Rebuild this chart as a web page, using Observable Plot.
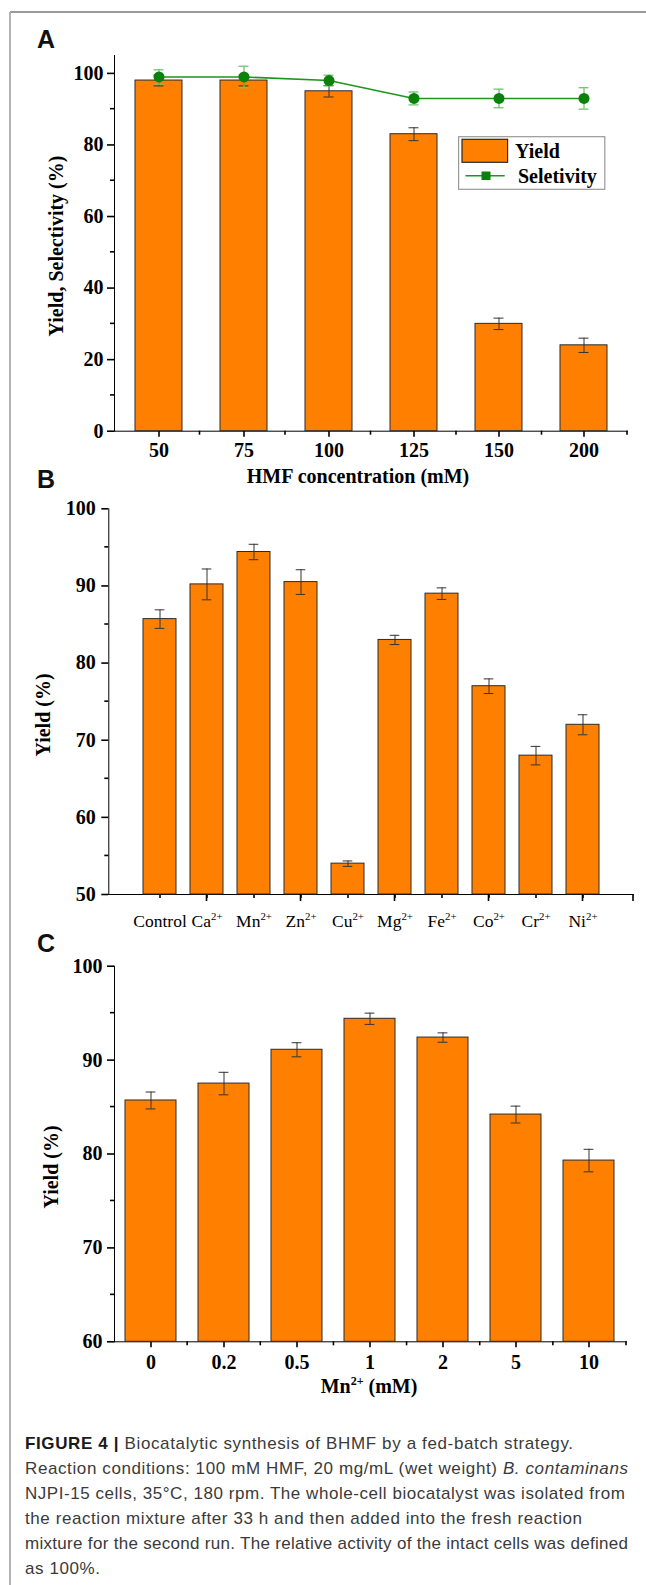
<!DOCTYPE html>
<html><head><meta charset="utf-8">
<script src="https://cdn.jsdelivr.net/npm/d3@7"></script>
<script src="https://cdn.jsdelivr.net/npm/@observablehq/plot@0.6"></script>
<style>
html,body{margin:0;padding:0;background:#fff;}
body{width:646px;height:1585px;position:relative;overflow:hidden;}
.panel{position:absolute;left:0;}
#overlay{position:absolute;left:0;top:0;pointer-events:none;}
</style></head><body>
<div id="pA" class="panel" style="top:0px"></div>
<div id="pB" class="panel" style="top:490px"></div>
<div id="pC" class="panel" style="top:950px"></div>
<svg id="overlay" width="646" height="1585"></svg>
<script>
// ---------------- DATA ----------------
// Panel A
const hmfConc = ["50", "75", "100", "125", "150", "200"];
const yieldA = [98, 98, 95, 83, 30, 24];
const yieldErrA = [1.5, 1.5, 1.6, 1.8, 1.6, 2.0];
const selectivityA = [99, 99, 98, 93, 93, 93];
const selectivityErrA = [2.0, 3.0, 1.5, 1.8, 2.6, 3.0];
const yDomainA = [0, 105];
const yTicksA = [0, 20, 40, 60, 80, 100];
const yMinorA = [10, 30, 50, 70, 90];

// Panel B
const ions = ["Control", "Ca2+", "Mn2+", "Zn2+", "Cu2+", "Mg2+", "Fe2+", "Co2+", "Cr2+", "Ni2+"];
const yieldB = [85.7, 90.2, 94.4, 90.5, 54.0, 83.0, 89.0, 77.0, 68.0, 72.0];
const yieldErrB = [1.2, 2.0, 1.0, 1.6, 0.35, 0.6, 0.75, 0.95, 1.2, 1.3];
const yDomainB = [50, 100];
const yTicksB = [50, 60, 70, 80, 90, 100];
const yMinorB = [55, 65, 75, 85, 95];

// Panel C
const mnConc = ["0", "0.2", "0.5", "1", "2", "5", "10"];
const yieldC = [85.7, 87.5, 91.1, 94.4, 92.4, 84.2, 79.3];
const yieldErrC = [0.9, 1.2, 0.75, 0.6, 0.5, 0.9, 1.2];
const yDomainC = [60, 100];
const yTicksC = [60, 70, 80, 90, 100];
const yMinorC = [65, 75, 85, 95];

// Text
const legendLabels = ["Yield", "Seletivity"];
const captionLines = [
  [["FIGURE 4 | ", "bold"], ["Biocatalytic synthesis of BHMF by a fed-batch strategy.", ""]],
  [["Reaction conditions: 100 mM HMF, 20 mg/mL (wet weight) ", ""], ["B. contaminans", "italic"]],
  [["NJPI-15 cells, 35°C, 180 rpm. The whole-cell biocatalyst was isolated from", ""]],
  [["the reaction mixture after 33 h and then added into the fresh reaction", ""]],
  [["mixture for the second run. The relative activity of the intact cells was defined", ""]],
  [["as 100%.", ""]]
];
const captionWidths = [548, 603, 600, 557, 603, 75];

// ---------------- STYLE ----------------
const W = 646;
const ORANGE = "#FF8000", EDGE = "#2a2a2a", ERR = "#333";
const GREEN_DOT = "#0b800b", GREEN_LINE = "#1e961e", GREEN_ERR = "#74c274";
const SERIF = "'Liberation Serif','Times New Roman',serif";
const SANS = "'Liberation Sans',Arial,Helvetica,sans-serif";
const CAP = 10;

function bandwidth(m, n, pi, po) {
  return (W - m.l - m.r) / (n - pi + 2 * po) * (1 - pi);
}

function makePlot(el, cfg) {
  const plot = Plot.plot({
    width: W, height: cfg.height,
    marginLeft: cfg.m.l, marginRight: cfg.m.r, marginTop: cfg.m.t, marginBottom: cfg.m.b,
    style: {fontFamily: SERIF, fontSize: "20px", fontWeight: "bold", color: "#000", background: "transparent", overflow: "visible"},
    x: {type: "band", domain: cfg.domain, paddingInner: cfg.pi, paddingOuter: cfg.po,
        tickSize: cfg.xTickSize, tickPadding: cfg.xTickPadding, line: true, label: null},
    y: {domain: cfg.yDomain, ticks: cfg.yTicks, tickSize: 7, tickPadding: cfg.yTickPadding,
        line: true, label: null, tickFormat: d => String(d)},
    marks: cfg.marks
  });
  document.getElementById(el).appendChild(plot);
  const svg = d3.select(plot);
  svg.selectAll("[aria-label*='axis'] path, [aria-label*='axis'] line").attr("stroke-width", 1.6);
  const sy = plot.scale("y"), sx = plot.scale("x");
  const x0 = sx.range[0], x1 = sx.range[1];
  const yBottom = sy.range[0];
  const g = svg.append("g").attr("stroke", "#000").attr("stroke-width", 1.6);
  for (const v of cfg.yMinor) {
    const y = sy.apply(v);
    g.append("line").attr("x1", x0).attr("x2", x0 - 4).attr("y1", y).attr("y2", y);
  }
  if (cfg.xMinor) {
    const n = cfg.domain.length, step = (x1 - x0) / n;
    for (let k = 1; k <= n; k++) {
      const x = x0 + k * step;
      g.append("line").attr("x1", x).attr("x2", x).attr("y1", yBottom).attr("y2", yBottom + 4);
    }
  }
  if (cfg.altTicks) {
    cfg.domain.forEach((c, i) => {
      if (i % 2 === 1) {
        const x = sx.apply(c) + sx.bandwidth / 2;
        g.append("line").attr("x1", x).attr("x2", x).attr("y1", yBottom).attr("y2", yBottom + 7);
      }
    });
    g.append("line").attr("x1", x1).attr("x2", x1).attr("y1", yBottom).attr("y2", yBottom + 7);
  }
  // rotated y label
  svg.append("text")
    .attr("transform", `translate(${cfg.yLabel[1]},${cfg.yLabel[2]}) rotate(-90)`)
    .attr("text-anchor", "middle").attr("dy", "0.35em")
    .attr("font-family", SERIF).attr("font-size", 20).attr("font-weight", "bold")
    .text(cfg.yLabel[0]);
  return plot;
}

function superscriptize(plot, names, size) {
  d3.select(plot).selectAll("text").each(function () {
    const t = this.textContent;
    if (!names.includes(t)) return;
    const el = d3.select(this);
    el.attr("font-weight", "normal").attr("font-size", size);
    const m = t.match(/^(.*?)(2\+)$/);
    if (!m) return;
    el.text("");
    el.append("tspan").text(m[1]);
    el.append("tspan").attr("font-size", size * 0.62).attr("dy", -size * 0.38).text(m[2]);
  });
}

// ---------------- PANEL A ----------------
{
  const m = {l: 114, r: 19, t: 55, b: 59.3};
  const pi = 0.45, po = 0.225;
  const inset = (bandwidth(m, hmfConc.length, pi, po) - CAP) / 2;
  const data = hmfConc.map((c, i) => ({conc: c, y: yieldA[i], ye: yieldErrA[i], s: selectivityA[i], se: selectivityErrA[i]}));
  const plot = makePlot("pA", {
    height: 490, m, domain: hmfConc, pi, po, yDomain: yDomainA, yTicks: yTicksA, yMinor: yMinorA,
    xTickSize: 6, xTickPadding: 6, yTickPadding: 4, xMinor: true,
    yLabel: ["Yield, Selectivity (%)", 56, 246],
    marks: [
      Plot.barY(data, {x: "conc", y1: () => yDomainA[0], y2: "y", fill: ORANGE, stroke: EDGE, strokeWidth: 1}),
      Plot.ruleX(data, {x: "conc", y1: d => d.y - d.ye, y2: d => d.y + d.ye, stroke: ERR, strokeWidth: 1}),
      Plot.tickY(data, {x: "conc", y: d => d.y + d.ye, stroke: ERR, strokeWidth: 1, insetLeft: inset, insetRight: inset}),
      Plot.tickY(data, {x: "conc", y: d => d.y - d.ye, stroke: ERR, strokeWidth: 1, insetLeft: inset, insetRight: inset}),
      Plot.ruleX(data, {x: "conc", y1: d => d.s - d.se, y2: d => d.s + d.se, stroke: GREEN_ERR, strokeWidth: 1.3}),
      Plot.tickY(data, {x: "conc", y: d => d.s + d.se, stroke: GREEN_ERR, strokeWidth: 1.3, insetLeft: inset, insetRight: inset}),
      Plot.tickY(data, {x: "conc", y: d => d.s - d.se, stroke: GREEN_ERR, strokeWidth: 1.3, insetLeft: inset, insetRight: inset}),
      Plot.line(data, {x: "conc", y: "s", stroke: GREEN_LINE, strokeWidth: 1.6}),
      Plot.dot(data, {x: "conc", y: "s", r: 5.5, fill: GREEN_DOT, stroke: "none"})
    ]
  });
  const svg = d3.select(plot);
  svg.append("text").attr("x", 358).attr("y", 483).attr("text-anchor", "middle")
    .attr("font-family", SERIF).attr("font-size", 20).attr("font-weight", "bold")
    .text("HMF concentration (mM)");
  // legend
  const lg = svg.append("g").attr("text-anchor", "start");
  lg.append("rect").attr("x", 458.6).attr("y", 136.7).attr("width", 146.2).attr("height", 52.6)
    .attr("fill", "#fff").attr("stroke", "#999").attr("stroke-width", 1.2);
  lg.append("rect").attr("x", 462).attr("y", 139.3).attr("width", 45.6).attr("height", 23)
    .attr("fill", ORANGE).attr("stroke", EDGE).attr("stroke-width", 1.2);
  lg.append("text").attr("x", 515).attr("y", 158.3).attr("text-anchor", "start")
    .attr("font-family", SERIF).attr("font-size", 20)
    .attr("font-weight", "bold").text(legendLabels[0]);
  lg.append("line").attr("x1", 465.5).attr("x2", 504.7).attr("y1", 175.7).attr("y2", 175.7)
    .attr("stroke", GREEN_LINE).attr("stroke-width", 1.6);
  lg.append("rect").attr("x", 481.5).attr("y", 171.5).attr("width", 9).attr("height", 8.5).attr("fill", GREEN_DOT);
  lg.append("text").attr("x", 518).attr("y", 183).attr("text-anchor", "start")
    .attr("font-family", SERIF).attr("font-size", 20)
    .attr("font-weight", "bold").text(legendLabels[1]);
}

// ---------------- PANEL B ----------------
{
  const m = {l: 108.3, r: 13, t: 18.3, b: 56};
  const pi = 0.3, po = 0.65;
  const inset = (bandwidth(m, ions.length, pi, po) - CAP) / 2;
  const data = ions.map((c, i) => ({ion: c, y: yieldB[i], ye: yieldErrB[i]}));
  const plot = makePlot("pB", {
    height: 460, m, domain: ions, pi, po, yDomain: yDomainB, yTicks: yTicksB, yMinor: yMinorB,
    xTickSize: 4, xTickPadding: 16, yTickPadding: 6, altTicks: true,
    yLabel: ["Yield (%)", 43, 225],
    marks: [
      Plot.barY(data, {x: "ion", y1: () => yDomainB[0], y2: "y", fill: ORANGE, stroke: EDGE, strokeWidth: 1}),
      Plot.ruleX(data, {x: "ion", y1: d => d.y - d.ye, y2: d => d.y + d.ye, stroke: ERR, strokeWidth: 1}),
      Plot.tickY(data, {x: "ion", y: d => d.y + d.ye, stroke: ERR, strokeWidth: 1, insetLeft: inset, insetRight: inset}),
      Plot.tickY(data, {x: "ion", y: d => d.y - d.ye, stroke: ERR, strokeWidth: 1, insetLeft: inset, insetRight: inset})
    ]
  });
  superscriptize(plot, ions, 17.5);
}

// ---------------- PANEL C ----------------
{
  const m = {l: 114, r: 20, t: 15.7, b: 68.7};
  const pi = 0.3, po = 0.15;
  const inset = (bandwidth(m, mnConc.length, pi, po) - CAP) / 2;
  const data = mnConc.map((c, i) => ({mn: c, y: yieldC[i], ye: yieldErrC[i]}));
  const plot = makePlot("pC", {
    height: 460, m, domain: mnConc, pi, po, yDomain: yDomainC, yTicks: yTicksC, yMinor: yMinorC,
    xTickSize: 6, xTickPadding: 7, yTickPadding: 5, xMinor: true,
    yLabel: ["Yield (%)", 50.5, 217],
    marks: [
      Plot.barY(data, {x: "mn", y1: () => yDomainC[0], y2: "y", fill: ORANGE, stroke: EDGE, strokeWidth: 1}),
      Plot.ruleX(data, {x: "mn", y1: d => d.y - d.ye, y2: d => d.y + d.ye, stroke: ERR, strokeWidth: 1}),
      Plot.tickY(data, {x: "mn", y: d => d.y + d.ye, stroke: ERR, strokeWidth: 1, insetLeft: inset, insetRight: inset}),
      Plot.tickY(data, {x: "mn", y: d => d.y - d.ye, stroke: ERR, strokeWidth: 1, insetLeft: inset, insetRight: inset})
    ]
  });
  const t = d3.select(plot).append("text").attr("x", 369).attr("y", 443).attr("text-anchor", "middle")
    .attr("font-family", SERIF).attr("font-size", 20).attr("font-weight", "bold");
  t.append("tspan").text("Mn");
  t.append("tspan").attr("font-size", 12).attr("dy", -8).text("2+");
  t.append("tspan").attr("dy", 8).text(" (mM)");
}

// ---------------- OVERLAY: frame, letters, caption ----------------
{
  const ov = d3.select("#overlay");
  ov.append("line").attr("x1", 10).attr("x2", 646).attr("y1", 12).attr("y2", 12)
    .attr("stroke", "#777").attr("stroke-width", 1.3);
  ov.append("line").attr("x1", 10).attr("x2", 10).attr("y1", 12).attr("y2", 1585)
    .attr("stroke", "#b3b3b3").attr("stroke-width", 2);
  [["A", 48], ["B", 488], ["C", 952]].forEach(([L, y]) => {
    ov.append("text").attr("x", 37).attr("y", y).attr("font-family", SANS).attr("font-size", 25)
      .attr("font-weight", "bold").attr("fill", "#111").text(L);
  });
  captionLines.forEach((parts, i) => {
    const t = ov.append("text").attr("x", 25).attr("y", 1448.5 + i * 25)
      .attr("font-family", SANS).attr("font-size", 17).attr("fill", "#3a3a3a")
      .attr("textLength", captionWidths[i]).attr("lengthAdjust", "spacing");
    parts.forEach(([s, st]) => {
      const sp = t.append("tspan").text(s);
      if (st === "bold") sp.attr("font-weight", "bold").attr("fill", "#1a1a1a");
      if (st === "italic") sp.attr("font-style", "italic");
    });
  });
}
</script>
</body></html>
